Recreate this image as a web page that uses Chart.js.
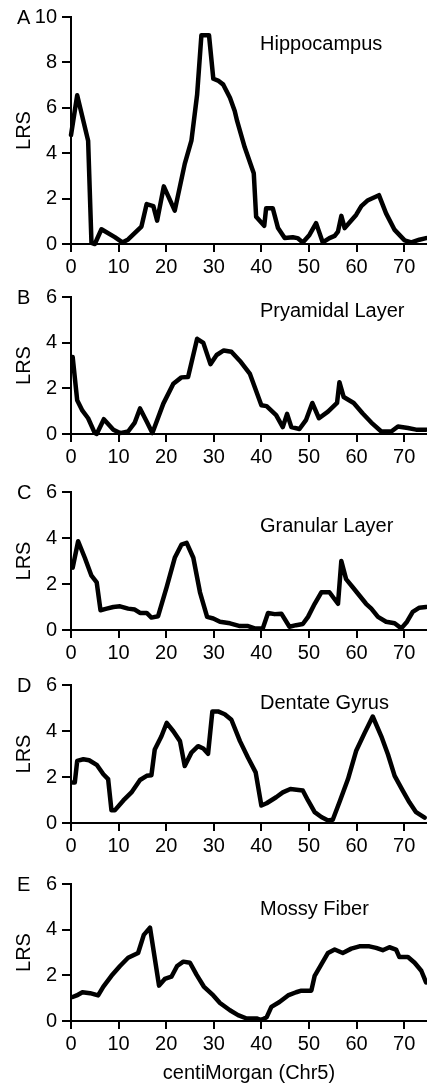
<!DOCTYPE html>
<html>
<head>
<meta charset="utf-8">
<script src="https://cdn.jsdelivr.net/npm/chart.js@4.4.1/dist/chart.umd.min.js"></script>
<style>
  body { margin: 0; background: #fff; width: 427px; height: 1089px; position: relative; overflow: hidden; }
  .panel { position: absolute; left: 0; width: 427px; }
</style>
</head>
<body>
<div class="panel" style="top:0px;height:284px"><canvas id="chartA"></canvas></div>
<div class="panel" style="top:280px;height:194px"><canvas id="chartB"></canvas></div>
<div class="panel" style="top:475px;height:195px"><canvas id="chartC"></canvas></div>
<div class="panel" style="top:668px;height:195px"><canvas id="chartD"></canvas></div>
<div class="panel" style="top:867px;height:222px"><canvas id="chartE"></canvas></div>
<script>
// centiMorgan positions and LRS values
var cmA = [0, 1.3, 3.6, 4.3, 5.0, 6.4, 9.2, 10.8, 12, 14.8, 15.9, 17.3, 18.1, 19.5, 21.8, 23.9, 25.3, 26.5, 27.4, 29.0, 29.9, 30.9, 32, 33.4, 34.4, 34.9, 36.5, 38.4, 38.9, 40.6, 41.0, 42.4, 43.5, 44.9, 46.6, 47.6, 48.7, 50.1, 51.5, 52.9, 54.3, 55.4, 56.1, 56.8, 57.5, 58.7, 59.9, 61, 62.4, 64.7, 66.2, 68, 70.1, 71.5, 73.2, 74.6];
var lrsA = [4.8, 6.55, 4.55, 0.05, 0, 0.65, 0.3, 0.07, 0.2, 0.77, 1.76, 1.67, 1.03, 2.54, 1.47, 3.53, 4.55, 6.58, 9.2, 9.2, 7.28, 7.2, 7.02, 6.44, 5.86, 5.42, 4.26, 3.12, 1.2, 0.8, 1.57, 1.57, 0.7, 0.26, 0.3, 0.26, 0.07, 0.4, 0.92, 0.07, 0.26, 0.36, 0.55, 1.24, 0.7, 0.99, 1.28, 1.67, 1.93, 2.15, 1.35, 0.62, 0.16, 0.07, 0.19, 0.26];

var cmB = [0.35, 1.3, 2.4, 3.6, 5, 5.4, 6.9, 8.9, 10.3, 12, 13.4, 14.5, 15.9, 17.1, 19.4, 21.5, 23.2, 24.6, 26.5, 27.8, 29.3, 30.6, 32.1, 33.7, 35.5, 37.6, 40, 41.1, 43.1, 44.5, 45.4, 46.3, 48.0, 49.4, 50.7, 52.1, 54, 55.9, 56.4, 57.3, 59.4, 61.3, 63.1, 65.2, 67.3, 68.7, 70.8, 72.5, 74.6];
var lrsB = [3.37, 1.48, 1.02, 0.69, 0.04, 0, 0.65, 0.19, 0.04, 0.11, 0.5, 1.12, 0.55, 0.04, 1.33, 2.2, 2.48, 2.5, 4.17, 3.99, 3.06, 3.46, 3.66, 3.6, 3.2, 2.63, 1.26, 1.22, 0.83, 0.3, 0.88, 0.3, 0.22, 0.62, 1.36, 0.69, 0.98, 1.36, 2.27, 1.62, 1.36, 0.9, 0.5, 0.11, 0.11, 0.33, 0.26, 0.19, 0.19];

var cmC = [0.35, 1.5, 2.9, 4.3, 5.4, 6.2, 7.5, 8.9, 10.3, 12, 13.4, 14.5, 15.9, 16.9, 18.3, 20.1, 21.8, 23.2, 24.3, 25.7, 27.1, 28.6, 29.9, 31.3, 33.4, 35.5, 37.2, 38.6, 40.3, 41.4, 42.8, 44.2, 45.9, 47.3, 48.7, 49.8, 51.2, 52.6, 54.3, 56.1, 56.8, 57.8, 59.2, 60.6, 62, 63.1, 64.5, 66.2, 68, 69.4, 70.6, 71.8, 73.2, 74.6];
var lrsC = [2.71, 3.86, 3.14, 2.36, 2.07, 0.86, 0.93, 1.0, 1.03, 0.93, 0.89, 0.74, 0.74, 0.54, 0.6, 1.86, 3.14, 3.71, 3.79, 3.14, 1.64, 0.57, 0.5, 0.36, 0.29, 0.17, 0.17, 0.07, 0.07, 0.74, 0.69, 0.71, 0.14, 0.21, 0.26, 0.57, 1.14, 1.64, 1.64, 1.14, 3.0, 2.21, 1.86, 1.5, 1.14, 0.93, 0.57, 0.36, 0.29, 0.07, 0.36, 0.79, 0.97, 1.0];

var cmD = [0.35, 0.8, 1.3, 2.6, 3.8, 5.4, 6.8, 7.8, 8.5, 9.2, 11, 12.7, 14.5, 15.9, 16.9, 17.6, 19, 20.1, 21.5, 22.9, 23.9, 25.3, 26.7, 27.8, 28.8, 29.7, 30.9, 32.3, 33.7, 35.5, 37.2, 38.8, 40.0, 41.1, 43.1, 44.5, 46.1, 48.7, 49.8, 51.2, 52.6, 54, 55.0, 56.4, 58.2, 59.9, 61.7, 63.4, 65.2, 66.6, 68, 69.7, 71.1, 72.5, 74.3];
var lrsD = [1.76, 1.76, 2.7, 2.77, 2.73, 2.53, 2.12, 1.91, 0.55, 0.55, 0.98, 1.33, 1.87, 2.05, 2.08, 3.2, 3.77, 4.35, 3.99, 3.56, 2.48, 3.06, 3.34, 3.24, 3.01, 4.85, 4.85, 4.73, 4.49, 3.56, 2.84, 2.2, 0.76, 0.86, 1.12, 1.33, 1.48, 1.41, 0.98, 0.47, 0.26, 0.11, 0.14, 0.9, 1.91, 3.13, 3.92, 4.63, 3.77, 2.98, 2.05, 1.41, 0.9, 0.47, 0.23];

var cmE = [0.35, 1.2, 2.4, 4, 5.7, 6.8, 8.5, 10.3, 12, 14.1, 15.3, 16.6, 18.5, 19.7, 21.1, 22.3, 23.6, 25, 26.4, 27.9, 29.9, 31.3, 33.4, 35.1, 36.9, 39, 40, 41.1, 42.1, 43.8, 45.6, 47.3, 48.4, 50.5, 51.2, 52.6, 54, 55.4, 57.1, 58.9, 60.6, 62.7, 64.1, 65.5, 66.9, 68.3, 69, 70.8, 72.2, 73.6, 74.6];
var lrsE = [1.05, 1.12, 1.26, 1.22, 1.12, 1.51, 1.98, 2.41, 2.77, 2.98, 3.77, 4.09, 1.55, 1.84, 1.94, 2.41, 2.6, 2.55, 2.02, 1.51, 1.12, 0.79, 0.47, 0.26, 0.11, 0.11, 0.04, 0.16, 0.62, 0.83, 1.12, 1.26, 1.33, 1.33, 1.98, 2.48, 2.98, 3.13, 2.98, 3.17, 3.27, 3.27, 3.2, 3.1, 3.23, 3.13, 2.8, 2.8, 2.55, 2.2, 1.69];

var xTicks = [0, 10, 20, 30, 40, 50, 60, 70];
var fontFam = '"Liberation Sans", Arial, Helvetica, sans-serif';

// letter + region name inside each panel
var panelText = {
    id: 'panelText',
    afterDraw: function (chart, args, opts) {
        var ctx = chart.ctx, a = chart.chartArea;
        ctx.save();
        ctx.fillStyle = '#000';
        ctx.font = '20px ' + fontFam;
        ctx.textBaseline = 'middle';
        ctx.textAlign = 'left';
        ctx.fillText(opts.letter, 17, a.top + 1);
        ctx.fillText(opts.title, opts.titleX, a.top + opts.titleDy);
        ctx.restore();
    }
};

function montarPainel(id, cm, lrs, yMax, letter, title, titleDy, lastPanel) {
    var pontos = cm.map(function (x, i) { return {x: x, y: lrs[i]}; });
    new Chart(document.getElementById(id), {
        type: 'line',
        data: {
            datasets: [{
                data: pontos,
                borderColor: '#000',
                borderWidth: 4.5,
                borderJoinStyle: 'round',
                borderCapStyle: 'round',
                pointRadius: 0,
                tension: 0,
                fill: false,
                clip: false
            }]
        },
        options: {
            responsive: true,
            maintainAspectRatio: false,
            animation: false,
            layout: {padding: {top: 15, left: 0, right: 0, bottom: 0}},
            plugins: {
                legend: {display: false},
                tooltip: {enabled: false},
                panelText: {letter: letter, title: title, titleX: 260, titleDy: titleDy}
            },
            scales: {
                x: {
                    type: 'linear',
                    min: 0,
                    max: 74.8,
                    afterBuildTicks: function (s) { s.ticks = xTicks.map(function (v) { return {value: v}; }); },
                    ticks: {color: '#000', font: {size: 20, family: fontFam}, padding: 3, maxRotation: 0, autoSkip: false},
                    grid: {drawOnChartArea: false, drawTicks: true, tickLength: 8, color: '#000', lineWidth: 2},
                    border: {display: true, color: '#000', width: 2},
                    title: {
                        display: lastPanel,
                        text: 'centiMorgan (Chr5)',
                        color: '#000',
                        font: {size: 20, family: fontFam},
                        padding: {top: 14}
                    },
                    afterFit: function (s) { s.height = lastPanel ? 68 : 40; }
                },
                y: {
                    min: 0,
                    max: yMax,
                    ticks: {stepSize: 2, color: '#000', font: {size: 20, family: fontFam}, padding: 5},
                    grid: {drawOnChartArea: false, drawTicks: true, tickLength: 9, color: '#000', lineWidth: 2},
                    border: {display: true, color: '#000', width: 2},
                    title: {display: true, text: 'LRS', color: '#000', font: {size: 20, family: fontFam}, padding: {top: 12, bottom: 0}},
                    afterFit: function (s) { s.width = 71; }
                }
            }
        },
        plugins: [panelText]
    });
}

montarPainel('chartA', cmA, lrsA, 10, 'A', 'Hippocampus', 27, false);
montarPainel('chartB', cmB, lrsB, 6, 'B', 'Pryamidal Layer', 14, false);
montarPainel('chartC', cmC, lrsC, 6, 'C', 'Granular Layer', 34, false);
montarPainel('chartD', cmD, lrsD, 6, 'D', 'Dentate Gyrus', 18, false);
montarPainel('chartE', cmE, lrsE, 6, 'E', 'Mossy Fiber', 25, true);
</script>
</body>
</html>
